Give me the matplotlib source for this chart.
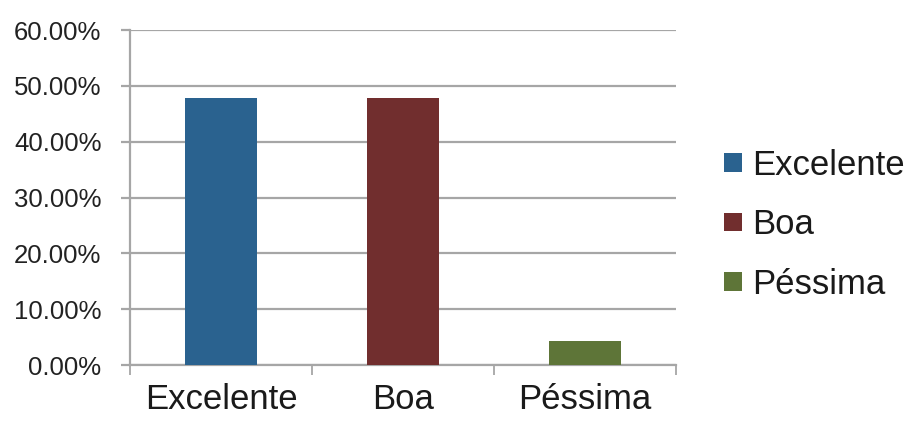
import matplotlib
matplotlib.use("Agg")
import matplotlib.pyplot as plt
from matplotlib.ticker import FuncFormatter, FixedLocator

categories = ["Excelente", "Boa", "Péssima"]
values = [0.4783, 0.4783, 0.0435]
colors = ["#2A628F", "#712E2E", "#5E7538"]
yticks = [0.0, 0.1, 0.2, 0.3, 0.4, 0.5, 0.6]

plt.rcParams["font.family"] = ["Liberation Sans", "DejaVu Sans"]

fig = plt.figure(figsize=(9.14, 4.21), dpi=100)
ax = fig.add_axes([0.1422, 0.133, 0.5974, 0.7957])

grid_color = "#A6A6A6"
xs = list(range(len(categories)))
for x, v, c, name in zip(xs, values, colors, categories):
    ax.bar(x, v, width=0.4, color=c, label=name, zorder=3)

ax.set_xlim(-0.5, len(categories) - 0.5)
ax.set_ylim(0, 0.6)
ax.set_yticks(yticks)
ax.yaxis.set_major_formatter(FuncFormatter(lambda v, _: f"{v * 100:.2f}%"))
ax.grid(axis="y", color=grid_color, linewidth=1.6, zorder=0)

ax.set_xticks(xs)
ax.set_xticklabels(categories)
ax.xaxis.set_minor_locator(FixedLocator([i - 0.5 for i in range(len(categories) + 1)]))
ax.tick_params(axis="x", which="major", length=0, pad=13, labelsize=25, labelcolor="#1a1a1a")
ax.tick_params(axis="x", which="minor", length=7, width=1.3, color=grid_color, direction="out")
ax.tick_params(axis="y", length=6.5, width=1.6, color=grid_color, pad=14, labelsize=18.5, labelcolor="#222222")

for side in ("top", "right"):
    ax.spines[side].set_visible(False)
for side in ("left", "bottom"):
    ax.spines[side].set_color(grid_color)
    ax.spines[side].set_linewidth(1.6)

fig.legend(loc="center left", bbox_to_anchor=(0.777, 0.466), frameon=False,
           fontsize=25, handlelength=0.52, handleheight=0.46, handletextpad=0.3,
           labelspacing=0.76, borderaxespad=0, labelcolor="#1a1a1a")

fig.savefig("out.png", dpi=100)
